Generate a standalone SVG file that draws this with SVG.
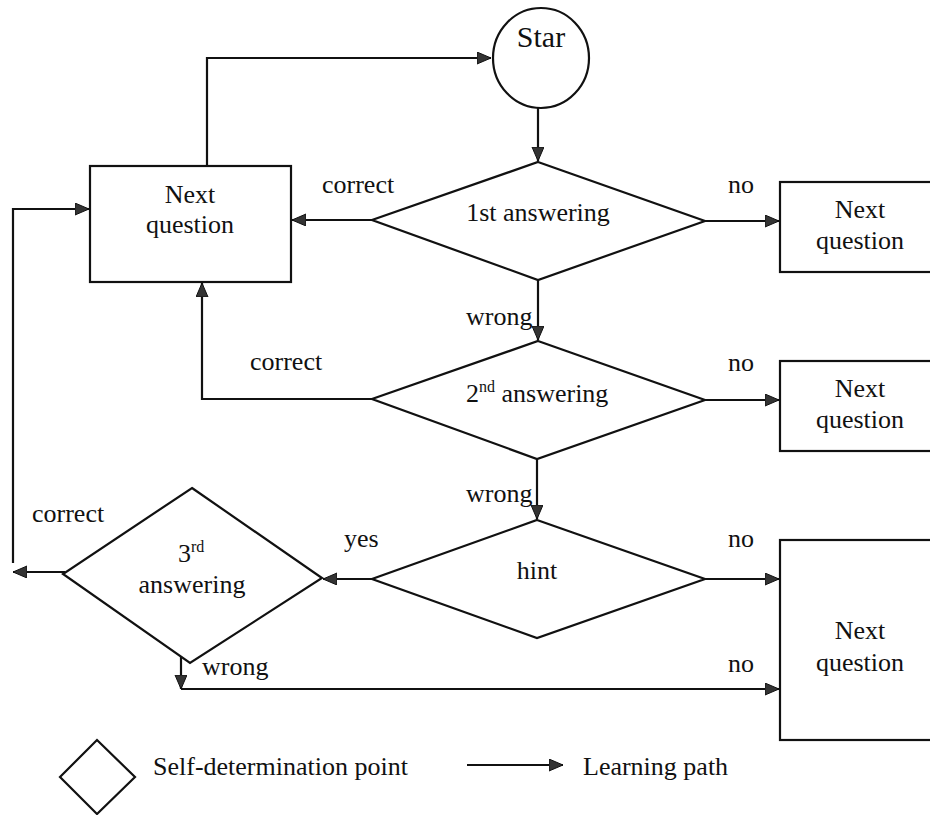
<svg xmlns="http://www.w3.org/2000/svg" width="930" height="815" viewBox="0 0 930 815">
<style>
.s{fill:none;stroke:#111;stroke-width:2.2}
.n{fill:#fff;stroke:#111;stroke-width:2.2}
text{font-family:'Liberation Serif','Times New Roman',serif;font-size:26px;fill:#111}
.m{text-anchor:middle}
.sup{font-size:16px}
</style>
<defs>
<marker id="a" markerUnits="userSpaceOnUse" markerWidth="16" markerHeight="14" refX="14" refY="6" orient="auto">
<path d="M0,0 L14,6 L0,12 Z" fill="#333" stroke="#111" stroke-width="1"/>
</marker>
</defs>
<rect width="930" height="815" fill="#fff"/>
<g id="connectors">
<polyline class="s" points="207,166 207,58 491,58" marker-end="url(#a)"/>
<line class="s" x1="538" y1="108" x2="538" y2="161" marker-end="url(#a)"/>
<line class="s" x1="372" y1="220" x2="292" y2="220" marker-end="url(#a)"/>
<line class="s" x1="705" y1="221" x2="779" y2="221" marker-end="url(#a)"/>
<line class="s" x1="538" y1="280" x2="538" y2="340" marker-end="url(#a)"/>
<line class="s" x1="705" y1="400" x2="779" y2="400" marker-end="url(#a)"/>
<polyline class="s" points="372,399 202,399 202,283" marker-end="url(#a)"/>
<line class="s" x1="537" y1="459" x2="537" y2="519" marker-end="url(#a)"/>
<line class="s" x1="705" y1="579" x2="779" y2="579" marker-end="url(#a)"/>
<line class="s" x1="372" y1="579" x2="323" y2="579" marker-end="url(#a)"/>
<line class="s" x1="65" y1="572" x2="13" y2="572" marker-end="url(#a)"/>
<polyline class="s" points="13,563 13,209 89,209" marker-end="url(#a)"/>
<line class="s" x1="181" y1="657" x2="181" y2="689" marker-end="url(#a)"/>
<line class="s" x1="181" y1="689" x2="779" y2="689" marker-end="url(#a)"/>
<text x="322" y="193">correct</text>
<text x="728" y="193">no</text>
<text x="466" y="325">wrong</text>
<text x="250" y="370">correct</text>
<text x="728" y="371">no</text>
<text x="466" y="502">wrong</text>
<text x="32" y="522">correct</text>
<text x="344" y="547">yes</text>
<text x="728" y="547">no</text>
<text x="202" y="675">wrong</text>
<text x="728" y="672">no</text>
</g>
<g id="start">
<ellipse class="n" cx="541" cy="58" rx="48" ry="50"/>
<text class="m" x="541" y="47" style="font-size:30px">Star</text>
</g>
<g id="next1">
<rect class="n" x="90" y="166" width="201" height="116"/>
<text class="m" x="190" y="203">Next</text>
<text class="m" x="190" y="233">question</text>
</g>
<g id="d1">
<polygon class="n" points="538,162 705,221 538,280 372,220"/>
<text class="m" x="538" y="221">1st answering</text>
</g>
<g id="next2">
<rect class="n" x="780" y="182" width="170" height="90"/>
<text class="m" x="860" y="218">Next</text>
<text class="m" x="860" y="249">question</text>
</g>
<g id="d2">
<polygon class="n" points="538,341 705,400 537,459 372,399"/>
<text x="466" y="402">2<tspan class="sup" dy="-10">nd</tspan><tspan dy="10"> answering</tspan></text>
</g>
<g id="next3">
<rect class="n" x="780" y="361" width="170" height="90"/>
<text class="m" x="860" y="397">Next</text>
<text class="m" x="860" y="428">question</text>
</g>
<g id="hint">
<polygon class="n" points="537,520 705,579 537,638 372,579"/>
<text class="m" x="537" y="579">hint</text>
</g>
<g id="d3">
<polygon class="n" points="192,488 322,578 190,663 63,574"/>
<text x="178" y="562">3<tspan class="sup" dy="-10">rd</tspan></text>
<text class="m" x="192" y="593">answering</text>
</g>
<g id="next4">
<rect class="n" x="780" y="540" width="170" height="200"/>
<text class="m" x="860" y="639">Next</text>
<text class="m" x="860" y="671">question</text>
</g>
<g id="legend">
<polygon class="n" points="97,740 135,777 97,814 60,777"/>
<text x="153" y="775">Self-determination point</text>
<line class="s" x1="467" y1="765" x2="563" y2="765" marker-end="url(#a)"/>
<text x="583" y="775">Learning path</text>
</g>
</svg>
